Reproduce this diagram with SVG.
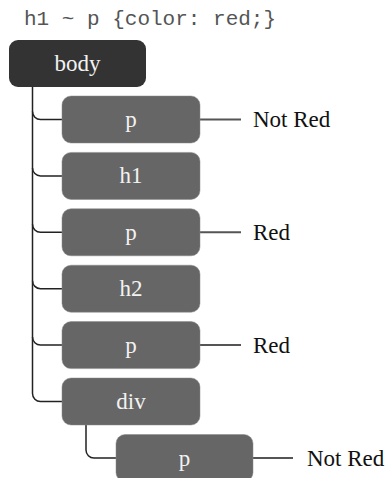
<svg xmlns="http://www.w3.org/2000/svg" width="387" height="478" viewBox="0 0 387 478">
<style>
.title{font-size:21px;fill:#555}
.box{fill:#666;stroke:#888;stroke-width:0.5}
.root{fill:#333}
.lbl{font-size:23px;fill:#f2f2f2;text-anchor:middle}
.res{font-size:23px;fill:#111}
.tree{fill:none;stroke:#222;stroke-width:1.5}
.out{fill:none;stroke:#555;stroke-width:2}
</style>
<text class="title" font-family="Liberation Mono, Courier New, monospace" x="24" y="25">h1 ~ p {color: red;}</text>
<g id="connectors">
<path class="tree" d="M32.5 87 V393.5 A8 8 0 0 0 40.5 401.5 H62"/>
<path class="tree" d="M32.5 111.5 A8 8 0 0 0 40.5 119.5 H62"/>
<path class="tree" d="M32.5 167.9 A8 8 0 0 0 40.5 175.9 H62"/>
<path class="tree" d="M32.5 224.3 A8 8 0 0 0 40.5 232.3 H62"/>
<path class="tree" d="M32.5 280.7 A8 8 0 0 0 40.5 288.7 H62"/>
<path class="tree" d="M32.5 337.1 A8 8 0 0 0 40.5 345.1 H62"/>
<path class="tree" d="M86 425 V450 A8 8 0 0 0 94 458 H116"/>
<path class="out" d="M200 119.5 H241"/>
<path class="out" d="M200 232.3 H241"/>
<path class="out" d="M200 345.1 H241"/>
<path class="out" d="M253 458 H293"/>
</g>
<g font-family="Liberation Serif, Times New Roman, serif">
<g id="body"><rect class="root" x="9" y="40" width="137" height="47" rx="9"/><text class="lbl" x="77.5" y="71">body</text></g>
<g id="p1"><rect class="box" x="62" y="96" width="138" height="47" rx="9"/><text class="lbl" x="131" y="127">p</text></g>
<g id="h1"><rect class="box" x="62" y="152.4" width="138" height="47" rx="9"/><text class="lbl" x="131" y="183.4">h1</text></g>
<g id="p2"><rect class="box" x="62" y="208.8" width="138" height="47" rx="9"/><text class="lbl" x="131" y="239.8">p</text></g>
<g id="h2"><rect class="box" x="62" y="265.2" width="138" height="47" rx="9"/><text class="lbl" x="131" y="296.2">h2</text></g>
<g id="p3"><rect class="box" x="62" y="321.6" width="138" height="47" rx="9"/><text class="lbl" x="131" y="352.6">p</text></g>
<g id="div"><rect class="box" x="62" y="378" width="138" height="47" rx="9"/><text class="lbl" x="131" y="409">div</text></g>
<g id="p4"><rect class="box" x="116" y="434.5" width="137" height="47" rx="9"/><text class="lbl" x="184.5" y="465.5">p</text></g>
<g id="results">
<text class="res" x="253" y="127">Not Red</text>
<text class="res" x="253" y="240">Red</text>
<text class="res" x="253" y="353">Red</text>
<text class="res" x="307" y="466">Not Red</text>
</g>
</g>
</svg>
